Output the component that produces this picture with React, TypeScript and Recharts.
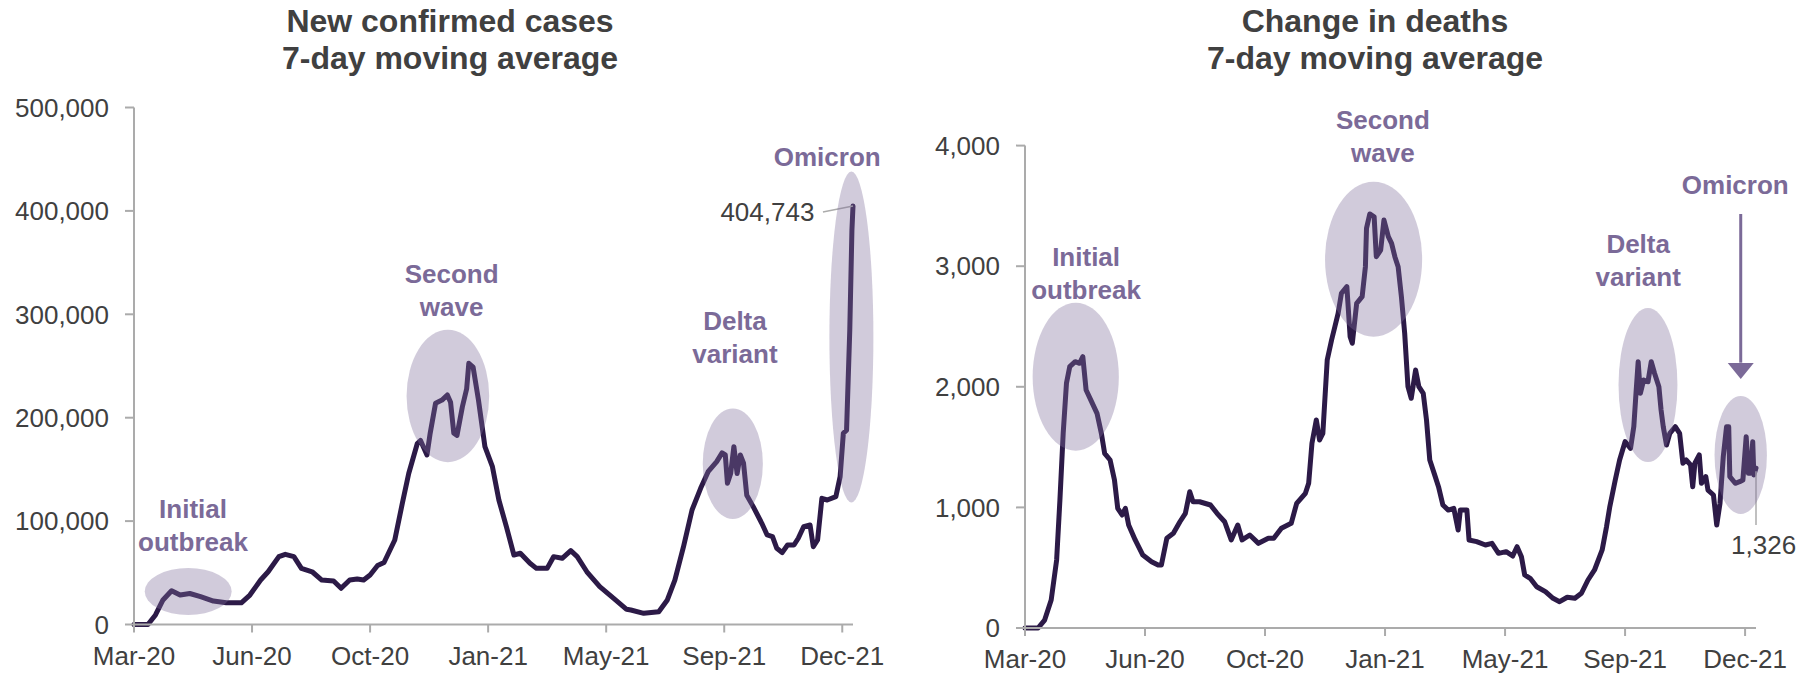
import React from 'react'
import { LineChart, Line, XAxis, YAxis, ReferenceArea, ReferenceDot, ReferenceLine } from 'recharts'

// x axis is "days since start of Mar-20", ticks every 110 days
const tickDays = [0, 110, 220, 330, 440, 550, 660]
const monthLabels = ['Mar-20', 'Jun-20', 'Oct-20', 'Jan-21', 'May-21', 'Sep-21', 'Dec-21']
const caseTicks = [0, 100000, 200000, 300000, 400000, 500000]
const deathTicks = [0, 1000, 2000, 3000, 4000]

const caseDays = [
  0, 13, 20, 27, 35, 43, 52, 62, 74, 86, 100, 108, 118, 125, 135, 141, 149, 156, 166, 175,
  186, 193, 201, 208, 214, 220, 227, 233, 243, 250, 256, 264, 267, 273, 276, 281, 287, 292, 295, 298,
  301, 306, 310, 312, 316, 321, 327, 334, 340, 347, 354, 360, 369, 375, 385, 391, 399, 407, 413, 422,
  434, 447, 459, 463, 475, 489, 497, 504, 512, 520, 528, 535, 543, 548, 551, 553, 556, 559, 562, 565,
  568, 571, 577, 585, 590, 595, 599, 604, 609, 615, 619, 624, 630, 633, 637, 641, 646, 654, 658, 661,
  664, 667, 669, 670,
]
const caseValues = [
  0, 0, 9200, 23700, 32700, 28500, 30000, 26900, 22700, 21000, 21000, 28500, 43000, 51000, 65600, 67900, 65600, 54300, 51000, 43000,
  42000, 35000, 43000, 44000, 43000, 47900, 57000, 60000, 81700, 117000, 146000, 175000, 178000, 164000, 185000, 214000, 217000, 222000, 215000, 185000,
  183000, 210600, 228000, 252600, 249000, 217000, 172000, 152600, 120400, 94600, 67200, 68900, 59200, 54300, 54300, 65600, 64000, 71400, 65600, 51000,
  36600, 25300, 14700, 14000, 10800, 12400, 23700, 43000, 75000, 110700, 131700, 147800, 157500, 166000, 164000, 136600, 146000, 172000, 146000, 164000,
  156000, 125000, 114000, 97900, 86600, 85000, 73700, 69500, 76900, 76900, 83400, 94600, 96200, 75200, 81700, 122000, 120400, 123600, 143000, 185000,
  188000, 285000, 381500, 404743,
]

const deathDays = [
  0, 12, 18, 24, 29, 32, 35, 38, 41, 46, 50, 53, 56, 61, 66, 70, 73, 78, 82, 85,
  89, 92, 95, 101, 108, 116, 122, 125, 130, 136, 142, 147, 151, 154, 160, 170, 176, 183, 189, 195,
  199, 206, 214, 223, 228, 235, 244, 249, 257, 260, 263, 267, 270, 273, 277, 281, 284, 287, 290, 295,
  298, 300, 304, 309, 312, 313, 316, 320, 322, 326, 329, 333, 336, 339, 342, 345, 348, 351, 354, 358,
  361, 365, 368, 371, 376, 379, 383, 388, 393, 397, 399, 405, 407, 414, 422, 428, 434, 441, 447, 451,
  455, 458, 463, 469, 477, 484, 490, 497, 504, 510, 516, 522, 529, 533, 536, 541, 545, 550, 555, 558,
  560, 562, 564, 567, 571, 574, 577, 581, 583, 585, 588, 591, 596, 600, 603, 606, 610, 612, 614, 618,
  620, 624, 626, 631, 634, 637, 640, 643, 645, 646, 651, 655, 658, 661, 663, 665, 667, 668, 670,
]
const deathValues = [
  0, 0, 66, 232, 564, 1061, 1614, 2029, 2167, 2208, 2195, 2250, 1973, 1877, 1780, 1614, 1448, 1393, 1227, 992,
  937, 992, 854, 730, 605, 550, 522, 522, 744, 785, 881, 951, 1130, 1047, 1047, 1020, 951, 881, 730, 854,
  730, 771, 702, 744, 744, 827, 868, 1034, 1117, 1200, 1531, 1725, 1559, 1614, 2222, 2388, 2498, 2609, 2775, 2830,
  2415, 2361, 2692, 2747, 2996, 3314, 3433, 3410, 3079, 3134, 3383, 3245, 3190, 3079, 2996, 2747, 2444, 2001, 1905, 2139,
  2001, 1946, 1725, 1393, 1255, 1172, 1020, 978, 992, 813, 978, 978, 730, 716, 688, 702, 619, 633, 597, 674,
  591, 440, 412, 342, 301, 246, 218, 255, 246, 288, 398, 481, 647, 840, 1006, 1227, 1393, 1545, 1490, 1669,
  1946, 2208, 1946, 2056, 2042, 2208, 2112, 2001, 1808, 1669, 1517, 1614, 1669, 1614, 1366, 1393, 1352, 1172, 1366, 1435,
  1200, 1255, 1144, 1103, 854, 1034, 1420, 1669, 1669, 1255, 1200, 1213, 1227, 1586, 1283, 1283, 1545, 1269, 1326,
]

const FONT = '"Liberation Sans", Arial, sans-serif'
const LINE = '#2c1a47'
const AXIS = '#ababab'
const LABEL = '#7b6a98'
const TEXT = '#404040'

const Ellipse = (p: any) => (
  <ellipse
    cx={p.x + p.width / 2}
    cy={p.y + p.height / 2}
    rx={Math.abs(p.width) / 2}
    ry={Math.abs(p.height) / 2}
    fill="#7f6e9b"
    fillOpacity={0.36}
  />
)

const note = (lines: string[], opts: any = {}) => (p: any) => {
  const size = opts.size || 26
  const gap = opts.gap || 33
  const start = p.cy - ((lines.length - 1) * gap) / 2
  return (
    <g>
      {lines.map((t, i) => (
        <text
          key={t}
          x={p.cx}
          y={start + i * gap}
          dy="0.35em"
          textAnchor={opts.anchor || 'middle'}
          fontFamily={FONT}
          fontSize={size}
          fontWeight={opts.weight || 'bold'}
          fill={opts.color || LABEL}
        >
          {t}
        </text>
      ))}
    </g>
  )
}

const ArrowHead = (p: any) => (
  <path d={`M${p.cx - 13},${p.cy - 16} L${p.cx + 13},${p.cy - 16} L${p.cx},${p.cy} Z`} fill={LABEL} />
)

function Panel({ left, title, days, values, ticks, yMax, yWidth, margin, xHeight, children }: any) {
  const data = days.map((d: number, i: number) => ({ day: d, value: values[i] }))
  const tickStyle = { fill: TEXT, fontSize: 26, fontFamily: FONT }
  return (
    <div style={{ position: 'absolute', left, top: 0, width: 907, height: 675 }}>
      <div
        style={{
          position: 'absolute',
          top: 3,
          left: title.cx - 300,
          width: 600,
          textAlign: 'center',
          fontFamily: FONT,
          fontWeight: 'bold',
          fontSize: 32,
          lineHeight: '37px',
          color: TEXT,
          zIndex: 2,
        }}
      >
        {title.lines.map((t: string) => (
          <div key={t}>{t}</div>
        ))}
      </div>
      <LineChart width={907} height={675} data={data} margin={margin} style={{ position: 'absolute', left: 0, top: 0 }}>
        <XAxis
          dataKey="day"
          type="number"
          domain={[0, 670]}
          ticks={tickDays}
          interval={0}
          tickFormatter={(d: number) => monthLabels[tickDays.indexOf(d)]}
          height={xHeight}
          stroke={AXIS}
          strokeWidth={2}
          tickSize={8}
          tickMargin={14}
          tick={tickStyle}
        />
        <YAxis
          type="number"
          domain={[0, yMax]}
          ticks={ticks}
          interval={0}
          width={yWidth}
          tickFormatter={(v: number) => v.toLocaleString('en-US')}
          stroke={AXIS}
          strokeWidth={2}
          tickSize={9}
          tickMargin={16}
          tick={tickStyle}
        />
        <Line
          dataKey="value"
          type="linear"
          stroke={LINE}
          strokeWidth={5}
          strokeLinejoin="round"
          strokeLinecap="round"
          dot={false}
          activeDot={false}
          isAnimationActive={false}
        />
        {children}
      </LineChart>
    </div>
  )
}

export default function App() {
  return (
    <div style={{ position: 'absolute', left: 0, top: 0, width: 1814, height: 675, background: '#fff', overflow: 'hidden' }}>
      <Panel
        left={0}
        title={{ cx: 450, lines: ['New confirmed cases', '7-day moving average'] }}
        days={caseDays}
        values={caseValues}
        ticks={caseTicks}
        yMax={500000}
        yWidth={134}
        xHeight={50.5}
        margin={{ top: 107.5, right: 54, bottom: 0, left: 0 }}
      >
        <ReferenceArea x1={10} x2={91} y1={9200} y2={54600} ifOverflow="visible" zIndex={450} shape={Ellipse} />
        <ReferenceArea x1={254} x2={331} y1={157000} y2={285000} ifOverflow="visible" zIndex={450} shape={Ellipse} />
        <ReferenceArea x1={530} x2={586} y1={102000} y2={209000} ifOverflow="visible" zIndex={450} shape={Ellipse} />
        <ReferenceArea x1={648} x2={689} y1={118000} y2={438000} ifOverflow="visible" zIndex={450} shape={Ellipse} />
        <ReferenceDot x={55} y={95700} r={0} ifOverflow="visible" shape={note(['Initial', 'outbreak'])} />
        <ReferenceDot x={296} y={323000} r={0} ifOverflow="visible" shape={note(['Second', 'wave'])} />
        <ReferenceDot x={560} y={277700} r={0} ifOverflow="visible" shape={note(['Delta', 'variant'])} />
        <ReferenceDot x={646} y={452000} r={0} ifOverflow="visible" shape={note(['Omicron'])} />
        <ReferenceLine segment={[{ x: 642, y: 399000 }, { x: 670, y: 404743 }]} stroke={AXIS} strokeWidth={1.5} ifOverflow="visible" />
        <ReferenceDot x={634} y={398900} r={0} ifOverflow="visible" shape={note(['404,743'], { anchor: 'end', weight: 'normal', color: TEXT })} />
      </Panel>
      <Panel
        left={907}
        title={{ cx: 468, lines: ['Change in deaths', '7-day moving average'] }}
        days={deathDays}
        values={deathValues}
        ticks={deathTicks}
        yMax={4000}
        yWidth={118}
        xHeight={47}
        margin={{ top: 145.6, right: 58, bottom: 0, left: 0 }}
      >
        <ReferenceArea x1={7} x2={86} y1={1470} y2={2697} ifOverflow="visible" zIndex={450} shape={Ellipse} />
        <ReferenceArea x1={275} x2={364} y1={2415} y2={3701} ifOverflow="visible" zIndex={450} shape={Ellipse} />
        <ReferenceArea x1={544} x2={598} y1={1376} y2={2653} ifOverflow="visible" zIndex={450} shape={Ellipse} />
        <ReferenceArea x1={632} x2={680} y1={945} y2={1924} ifOverflow="visible" zIndex={450} shape={Ellipse} />
        <ReferenceDot x={56} y={2944} r={0} ifOverflow="visible" shape={note(['Initial', 'outbreak'])} />
        <ReferenceDot x={328} y={4075} r={0} ifOverflow="visible" shape={note(['Second', 'wave'])} />
        <ReferenceDot x={562} y={3047} r={0} ifOverflow="visible" shape={note(['Delta', 'variant'])} />
        <ReferenceDot x={651} y={3673} r={0} ifOverflow="visible" shape={note(['Omicron'])} />
        <ReferenceLine segment={[{ x: 656, y: 3433 }, { x: 656, y: 2200 }]} stroke={LABEL} strokeWidth={3} ifOverflow="visible" />
        <ReferenceDot x={656} y={2065} r={0} ifOverflow="visible" shape={ArrowHead} />
        <ReferenceLine segment={[{ x: 670, y: 1300 }, { x: 670, y: 854 }]} stroke={AXIS} strokeWidth={1.5} ifOverflow="visible" />
        <ReferenceDot x={677} y={688} r={0} ifOverflow="visible" shape={note(['1,326'], { weight: 'normal', color: TEXT })} />
      </Panel>
    </div>
  )
}
